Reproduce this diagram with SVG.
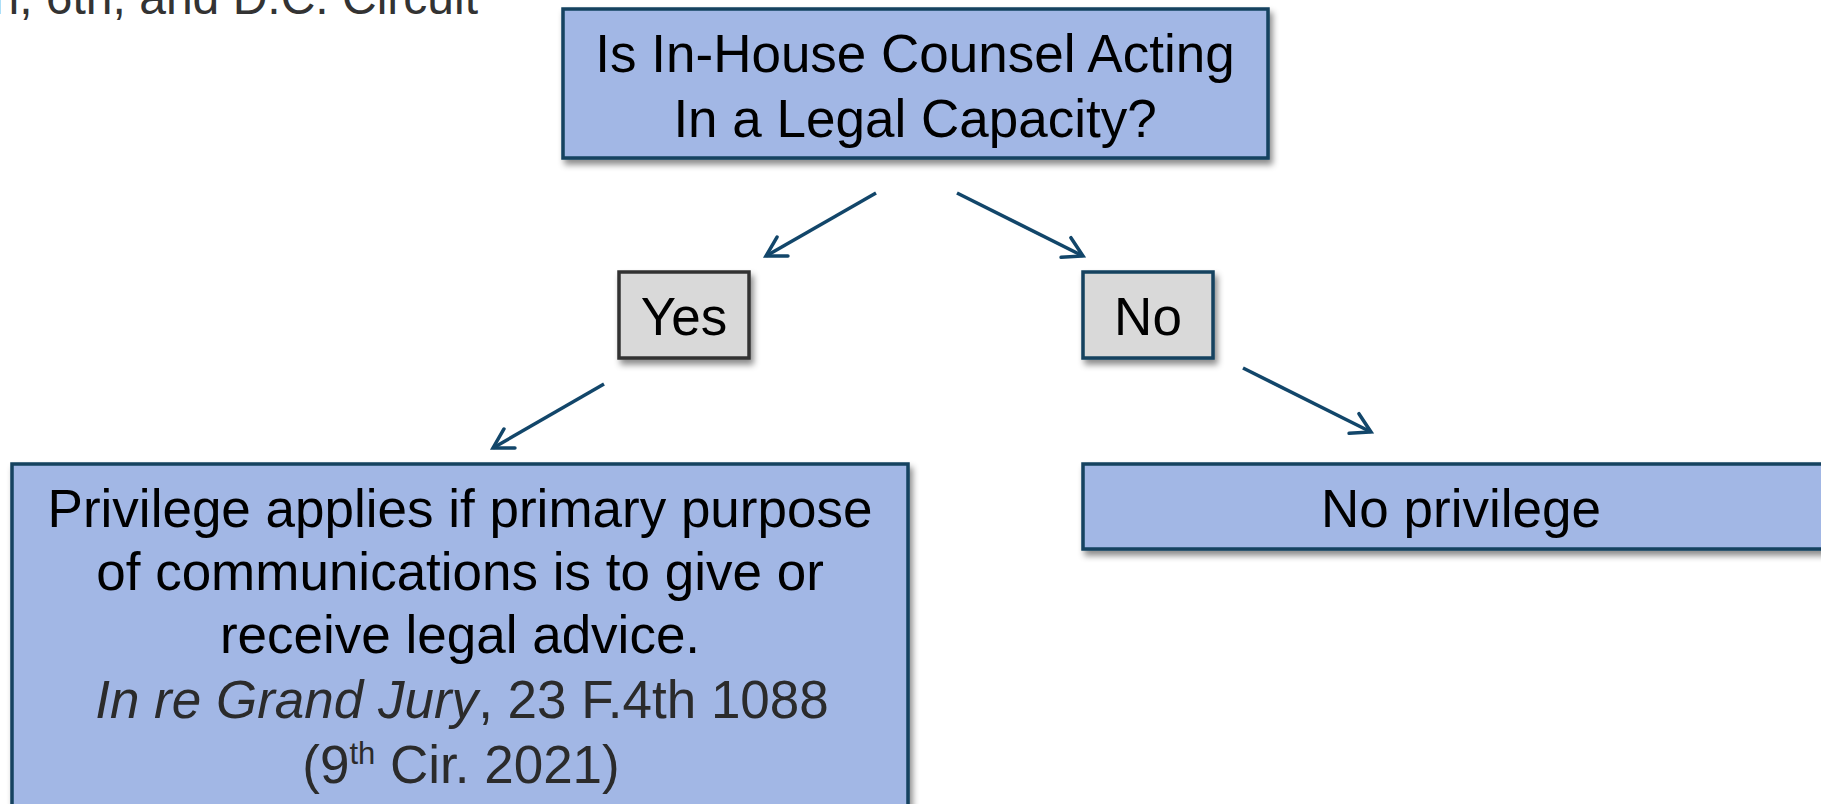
<svg xmlns="http://www.w3.org/2000/svg" width="1821" height="804" viewBox="0 0 1821 804">
  <style>
    text { font-family: "Liberation Sans", Arial, sans-serif; font-size: 53px; fill: #000; }
    .blue { fill: #A2B7E5; stroke: #12425F; stroke-width: 3.5; }
    .gray { fill: #D9D9D9; stroke: #12425F; stroke-width: 3.5; }
    .grayd { fill: #D9D9D9; stroke: #333333; stroke-width: 3.5; }
    .cite { fill: #2B2B2B; }
    .conn { stroke: #12466A; stroke-width: 3.5; fill: none; }
  </style>
  <defs>
    <filter id="sh" x="-10%" y="-20%" width="130%" height="150%">
      <feDropShadow dx="3" dy="5" stdDeviation="3" flood-color="#000" flood-opacity="0.45"/>
    </filter>
    <marker id="arr" markerUnits="userSpaceOnUse" orient="auto" markerWidth="40" markerHeight="40" viewBox="-25 -20 40 40" refX="0" refY="0" overflow="visible">
      <path d="M-19,-11 L0,0 L-19,11" fill="none" stroke="#12466A" stroke-width="3.5" stroke-linecap="round"/>
    </marker>
  </defs>

  <rect width="1821" height="804" fill="#fff"/>

  <text x="478" y="14" text-anchor="end" style="font-size:48px;fill:#333">th, 6th, and D.C. Circuit</text>

  <g id="question">
    <rect class="blue" x="563" y="9" width="705" height="149" filter="url(#sh)"/>
    <text x="915" y="72" text-anchor="middle">Is In-House Counsel Acting</text>
    <text x="915" y="137" text-anchor="middle">In a Legal Capacity?</text>
  </g>

  <g id="yes">
    <rect class="grayd" x="619" y="272" width="130" height="86" filter="url(#sh)"/>
    <text x="684" y="335" text-anchor="middle">Yes</text>
  </g>

  <g id="no">
    <rect class="gray" x="1083" y="272" width="130" height="86" filter="url(#sh)"/>
    <text x="1148" y="335" text-anchor="middle">No</text>
  </g>

  <g id="privilege">
    <rect class="blue" x="12" y="464" width="896" height="380" filter="url(#sh)"/>
    <text x="460" y="527" text-anchor="middle">Privilege applies if primary purpose</text>
    <text x="460" y="590" text-anchor="middle">of communications is to give or</text>
    <text x="460" y="653" text-anchor="middle">receive legal advice.</text>
    <text class="cite" x="462" y="718" text-anchor="middle"><tspan font-style="italic">In re Grand Jury</tspan>, 23 F.4th 1088</text>
    <text class="cite" x="461" y="783" text-anchor="middle">(9<tspan dy="-19" style="font-size:31px">th</tspan><tspan dy="19"> Cir. 2021)</tspan></text>
  </g>

  <g id="noprivilege">
    <rect class="blue" x="1083" y="464" width="760" height="85" filter="url(#sh)"/>
    <text x="1461" y="527" text-anchor="middle">No privilege</text>
  </g>

  <g id="connectors">
    <line class="conn" x1="876" y1="193" x2="766" y2="256" marker-end="url(#arr)"/>
    <line class="conn" x1="957" y1="193" x2="1083" y2="256" marker-end="url(#arr)"/>
    <line class="conn" x1="604" y1="384" x2="493" y2="448" marker-end="url(#arr)"/>
    <line class="conn" x1="1243" y1="368" x2="1371" y2="432" marker-end="url(#arr)"/>
  </g>
</svg>
